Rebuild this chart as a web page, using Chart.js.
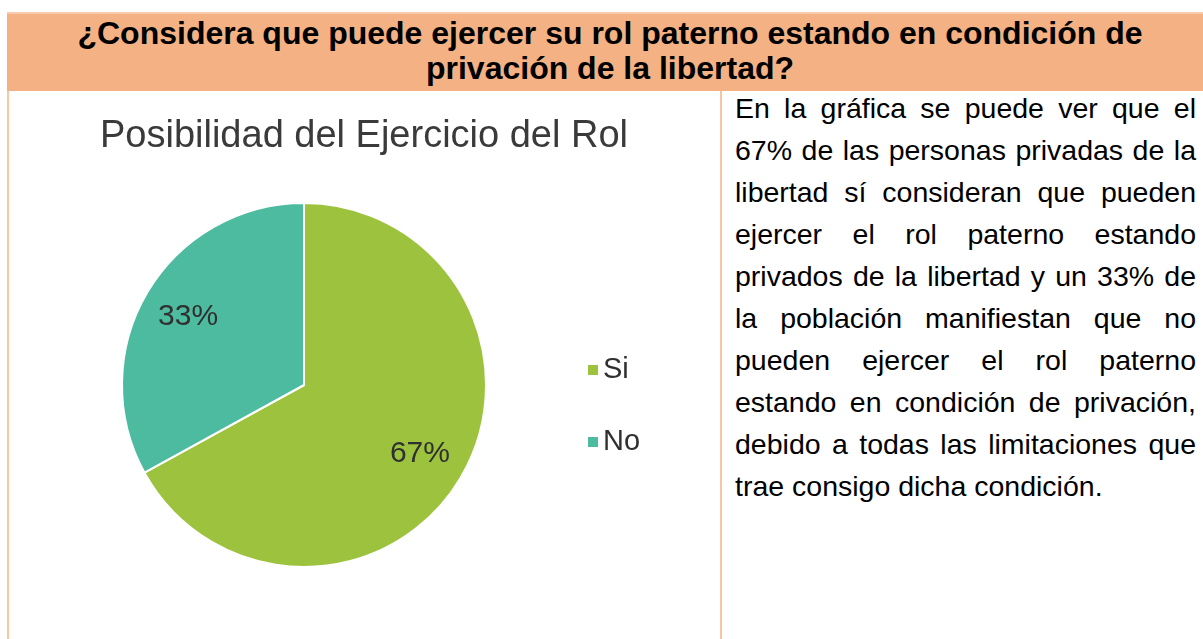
<!DOCTYPE html>
<html>
<head>
<meta charset="utf-8">
<script src="https://cdn.jsdelivr.net/npm/chart.js@4/dist/chart.umd.min.js"></script>
<style>
html,body{margin:0;padding:0;background:#fff;width:1203px;height:639px;overflow:hidden;font-family:"Liberation Sans",Arial,sans-serif;}
#hdr{position:absolute;left:7px;top:12px;width:1196px;height:79px;background:#F4B183;border-top:2px solid #F8CBAD;box-sizing:border-box;padding-top:2px;padding-left:10px;}
#hdr div{text-align:center;font-weight:bold;font-size:32px;line-height:35px;white-space:nowrap;color:#000;}
.vline{position:absolute;top:91px;width:2px;height:548px;background:#F8C6A2;}
#txt{position:absolute;left:735px;top:87px;width:461px;font-size:28.5px;line-height:42px;color:#000;}
#txt div{text-align:justify;text-align-last:justify;white-space:nowrap;}
#txt div.last{text-align-last:left;}
#chartBox{position:absolute;left:10px;top:92px;width:710px;height:547px;}
</style>
</head>
<body>
<div id="hdr"><div>¿Considera que puede ejercer su rol paterno estando en condición de</div><div>privación de la libertad?</div></div>
<div class="vline" style="left:7px"></div>
<div class="vline" style="left:720px"></div>
<div id="txt">
<div>En la gráfica se puede ver que el</div>
<div>67% de las personas privadas de la</div>
<div>libertad sí consideran que pueden</div>
<div>ejercer el rol paterno estando</div>
<div>privados de la libertad y un 33% de</div>
<div>la población manifiestan que no</div>
<div>pueden ejercer el rol paterno</div>
<div>estando en condición de privación,</div>
<div>debido a todas las limitaciones que</div>
<div class="last">trae consigo dicha condición.</div>
</div>
<div id="chartBox"><canvas id="c" width="710" height="547"></canvas></div>
<script>
const categories = ['Si', 'No'];
const percentages = [67, 33];
const sliceColors = ['#9DC33E', '#4DBBA0'];
const chartTitle = 'Posibilidad del Ejercicio del Rol';

const FONT = '"Liberation Sans", Arial, sans-serif';

const decor = {
  id: 'decor',
  afterDraw(chart, args, opts) {
    const ctx = chart.ctx;
    const meta = chart.getDatasetMeta(0);
    const total = chart.data.datasets[0].data.reduce((a, b) => a + b, 0);
    ctx.save();
    // title
    ctx.font = '38px ' + FONT;
    ctx.fillStyle = '#3a3a3a';
    ctx.textAlign = 'center';
    ctx.textBaseline = 'middle';
    ctx.fillText(opts.title, opts.titleX, opts.titleY);
    // data labels along slice bisectors
    ctx.font = '30px ' + FONT;
    ctx.fillStyle = '#303030';
    meta.data.forEach((arc, i) => {
      const mid = (arc.startAngle + arc.endAngle) / 2;
      const rr = arc.outerRadius * opts.labelRadius;
      const x = arc.x + Math.cos(mid) * rr;
      const y = arc.y + Math.sin(mid) * rr;
      const v = chart.data.datasets[0].data[i];
      ctx.fillText(Math.round(v / total * 100) + '%', x, y);
    });
    // legend
    ctx.textAlign = 'left';
    ctx.font = '29px ' + FONT;
    chart.data.labels.forEach((lab, i) => {
      const y = opts.legendY[i];
      ctx.fillStyle = chart.data.datasets[0].backgroundColor[i];
      ctx.fillRect(opts.legendX, y - 5, 10, 10);
      ctx.fillStyle = '#303030';
      ctx.fillText(lab, opts.legendX + 15, y);
    });
    ctx.restore();
  }
};

new Chart(document.getElementById('c'), {
  type: 'pie',
  data: {
    labels: categories,
    datasets: [{
      data: percentages,
      backgroundColor: sliceColors,
      borderColor: '#ffffff',
      borderWidth: 2
    }]
  },
  options: {
    responsive: false,
    devicePixelRatio: 1,
    animation: false,
    layout: { padding: { left: 111, right: 233, top: 110, bottom: 71 } },
    plugins: {
      legend: { display: false },
      title: { display: false },
      tooltip: { enabled: false },
      decor: {
        title: chartTitle,
        titleX: 354,
        titleY: 45,
        labelRadius: 0.74,
        legendX: 578,
        legendY: [278, 350]
      }
    }
  },
  plugins: [decor]
});
</script>
</body>
</html>
